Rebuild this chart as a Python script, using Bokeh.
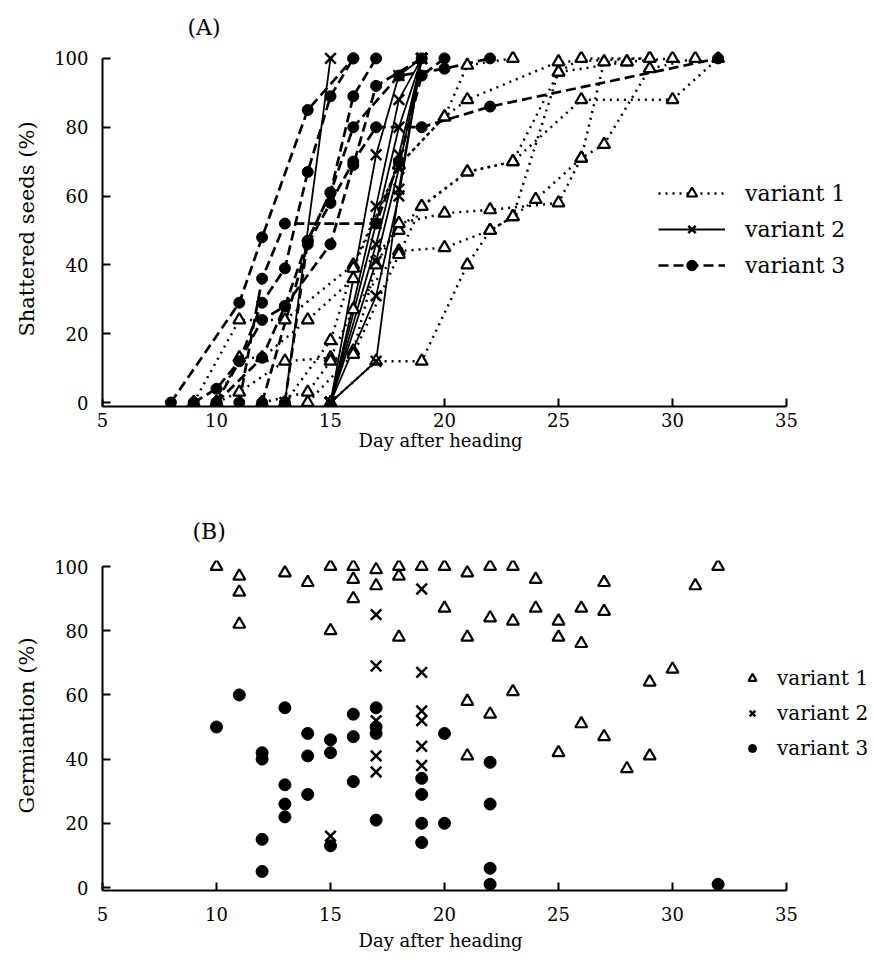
from bokeh.plotting import figure
from bokeh.layouts import column
from bokeh.models import Range1d, FixedTicker, Legend, LegendItem, Title
from bokeh.embed import file_html
from bokeh.resources import INLINE

FONT = "DejaVu Serif"

# ---------------- data ----------------
x_ticks = [5, 10, 15, 20, 25, 30, 35]
y_ticks = [0, 20, 40, 60, 80, 100]

# Panel A: cumulative shattered seeds (%) by day after heading, one list per ear/plant
a_v1_days = [
    [10, 11, 13, 15, 16, 18, 20, 22, 23, 24, 26, 27, 28],
    [10, 11, 12, 14, 16, 18, 19, 21, 23, 26, 30, 32],
    [9, 11, 13, 16, 18, 20, 21, 23],
    [12, 14, 15, 16, 17, 18, 20, 22, 25, 26, 27, 29, 31],
    [15, 17, 19, 21, 22, 23, 25, 26, 29],
    [13, 15, 16, 18, 20, 21, 25, 29],
    [14, 16, 18, 19, 21, 23, 25, 28, 30],
]
a_v1_pct = [
    [0, 3, 12, 13, 27, 44, 45, 50, 54, 59, 71, 99, 99],
    [0, 13, 13, 24, 36, 50, 57, 67, 70, 88, 88, 100],
    [0, 24, 24, 40, 69, 83, 98, 100],
    [0, 3, 12, 15, 40, 52, 55, 56, 58, 71, 75, 97, 100],
    [0, 12, 12, 40, 50, 54, 96, 100, 100],
    [0, 18, 39, 69, 83, 88, 99, 100],
    [0, 14, 43, 57, 67, 70, 96, 99, 100],
]
a_v2_days = [
    [13, 15],
    [15, 17, 18, 19],
    [15, 17, 18, 19],
    [15, 17, 18, 19],
    [15, 17, 18, 19],
    [15, 17, 18, 19],
    [15, 17, 18, 19],
    [15, 17, 18, 19],
]
a_v2_pct = [
    [0, 100],
    [0, 72, 95, 100],
    [0, 57, 88, 100],
    [0, 52, 80, 100],
    [0, 46, 72, 100],
    [0, 41, 68, 100],
    [0, 31, 60, 100],
    [0, 12, 62, 100],
]
a_v3_days = [
    [8, 11, 12, 14, 16],
    [9, 10, 11, 12, 13, 14, 15, 16],
    [10, 12, 13, 14, 15, 16, 17],
    [11, 12, 13, 17, 18, 19, 20],
    [12, 14, 15, 16, 17, 19, 22, 32],
    [10, 12, 13, 15, 16, 17, 19],
    [13, 14, 15, 16, 18, 20, 22],
]
a_v3_pct = [
    [0, 29, 48, 85, 100],
    [0, 4, 12, 29, 39, 67, 89, 100],
    [0, 13, 28, 47, 61, 89, 100],
    [0, 36, 52, 52, 70, 95, 100],
    [0, 46, 58, 70, 80, 80, 86, 100],
    [0, 24, 28, 46, 69, 92, 100],
    [0, 47, 61, 80, 95, 97, 100],
]

# Panel B: germination (%) of shattered seeds by day after heading
b_v1_day = [10, 11, 11, 11, 13, 14, 15, 15, 16, 16, 16, 17, 17, 18, 18, 18, 19, 20, 20,
            21, 21, 22, 22, 23, 23, 24, 24, 25, 25, 26, 26, 27, 27, 31, 32, 29, 30,
            21, 23, 22, 26, 27, 25, 21, 28, 29]
b_v1_germ = [100, 97, 92, 82, 98, 95, 100, 80, 100, 96, 90, 99, 94, 100, 97, 78, 100, 100, 87,
             98, 78, 100, 84, 100, 83, 96, 87, 83, 78, 87, 76, 95, 86, 94, 100, 64, 68,
             58, 61, 54, 51, 47, 42, 41, 37, 41]
b_v2_day = [19, 17, 17, 19, 19, 19, 17, 17, 17, 19, 19, 15]
b_v2_germ = [93, 85, 69, 67, 55, 52, 52, 41, 36, 44, 38, 16]
b_v3_day = [11, 10, 13, 12, 12, 14, 14, 15, 15, 16, 16, 16, 17, 17, 17, 17, 13, 13, 13, 14,
            12, 12, 15, 19, 19, 19, 19, 20, 20, 22, 22, 22, 22, 32]
b_v3_germ = [60, 50, 56, 42, 40, 48, 41, 46, 42, 54, 47, 33, 56, 50, 48, 21, 32, 26, 22, 29,
             15, 5, 13, 34, 29, 20, 14, 48, 20, 39, 26, 6, 1, 1]

series_labels = ["variant 1", "variant 2", "variant 3"]
x_title = "Day after heading"
a_y_title = "Shattered seeds (%)"
b_y_title = "Germiantion (%)"

# ---------------- helpers ----------------
PX_PER_DAY = 22.8
X_END = 5 + 770 / PX_PER_DAY


def make_fig(height, y0, y1, top, bottom, tick_std, ylabel):
    p = figure(width=874, height=height, output_backend="svg", toolbar_location=None,
               x_range=Range1d(5, X_END), y_range=Range1d(y0, y1),
               min_border_left=102, min_border_right=2,
               min_border_top=top, min_border_bottom=bottom)
    p.grid.visible = False
    p.outline_line_color = None
    p.background_fill_color = "white"
    p.border_fill_color = "white"
    p.xaxis.ticker = FixedTicker(ticks=x_ticks)
    p.yaxis.ticker = FixedTicker(ticks=y_ticks)
    p.xaxis.bounds = (5, 35)
    p.yaxis.bounds = (y0, 100)
    for ax in (p.xaxis, p.yaxis):
        ax.axis_line_width = 2
        ax.axis_line_color = "black"
        ax.major_tick_in = 8
        ax.major_tick_out = 0
        ax.major_tick_line_width = 2
        ax.minor_tick_line_color = None
        ax.major_label_text_font = FONT
        ax.major_label_text_font_size = "18px"
        ax.major_label_text_color = "black"
    p.xaxis.major_label_standoff = tick_std
    p.yaxis.major_label_standoff = 14
    p.yaxis.axis_label = ylabel
    p.yaxis.axis_label_text_font = FONT
    p.yaxis.axis_label_text_font_size = "21px"
    p.yaxis.axis_label_text_font_style = "normal"
    p.yaxis.axis_label_text_color = "black"
    p.yaxis.axis_label_standoff = 12
    return p


def add_title(p, text, side, offset, standoff, size, valign):
    p.add_layout(Title(text=text, align="left", offset=offset, standoff=standoff,
                       vertical_align=valign, text_font=FONT, text_font_size=size,
                       text_font_style="normal", text_color="black"), side)


def flat(list_of_lists):
    return [v for sub in list_of_lists for v in sub]


# ---------------- panel A ----------------
pA = make_fig(456, -1.16, 102.0, 50, 50, 6, a_y_title)

l1 = pA.multi_line(a_v1_days, a_v1_pct, line_color="black", line_width=2.5,
                   line_dash="2 5")
l2 = pA.multi_line(a_v2_days, a_v2_pct, line_color="black", line_width=1.8)
l3 = pA.multi_line(a_v3_days, a_v3_pct, line_color="black", line_width=2.7,
                   line_dash="10 5")
m1 = pA.scatter(flat(a_v1_days), flat(a_v1_pct), marker="triangle", size=12,
                fill_color="white", line_color="black", line_width=2.2)
m2 = pA.scatter(flat(a_v2_days), flat(a_v2_pct), marker="x", size=15,
                line_color="black", line_width=2.5)
m3 = pA.scatter(flat(a_v3_days), flat(a_v3_pct), marker="circle", size=11,
                fill_color="black", line_color="black")

legA = Legend(items=[LegendItem(label=series_labels[0], renderers=[l1, m1]),
                     LegendItem(label=series_labels[1], renderers=[l2, m2]),
                     LegendItem(label=series_labels[2], renderers=[l3, m3])],
              location=(556, 128), glyph_width=67, glyph_height=26, label_height=26,
              label_standoff=20, spacing=10, padding=0, margin=0,
              border_line_color=None, background_fill_alpha=0,
              label_text_font=FONT, label_text_font_size="22px", label_text_color="black")
pA.add_layout(legA)
add_title(pA, "(A)", "above", 85, 24, "22px", "bottom")
add_title(pA, x_title, "below", 256, 0, "18px", "top")

# ---------------- panel B ----------------
pB = make_fig(506, -0.93, 101.87, 104, 72, 16, b_y_title)

n1 = pB.scatter(b_v1_day, b_v1_germ, marker="triangle", size=12,
                fill_color="white", line_color="black", line_width=2.2)
n2 = pB.scatter(b_v2_day, b_v2_germ, marker="x", size=15,
                line_color="black", line_width=2.5)
n3 = pB.scatter(b_v3_day, b_v3_germ, marker="circle", size=12,
                fill_color="black", line_color="black")

legB = Legend(items=[LegendItem(label=series_labels[0], renderers=[n1]),
                     LegendItem(label=series_labels[1], renderers=[n2]),
                     LegendItem(label=series_labels[2], renderers=[n3])],
              location=(640, 129), glyph_width=20, glyph_height=26, label_height=26,
              label_standoff=15, spacing=9, padding=0, margin=0,
              border_line_color=None, background_fill_alpha=0,
              label_text_font=FONT, label_text_font_size="20px", label_text_color="black")
pB.add_layout(legB)
add_title(pB, "(B)", "above", 90, 34, "22px", "bottom")
add_title(pB, x_title, "below", 256, 12, "18px", "top")

layout = column(pA, pB)
open("out.html", "w").write(file_html(layout, INLINE))
